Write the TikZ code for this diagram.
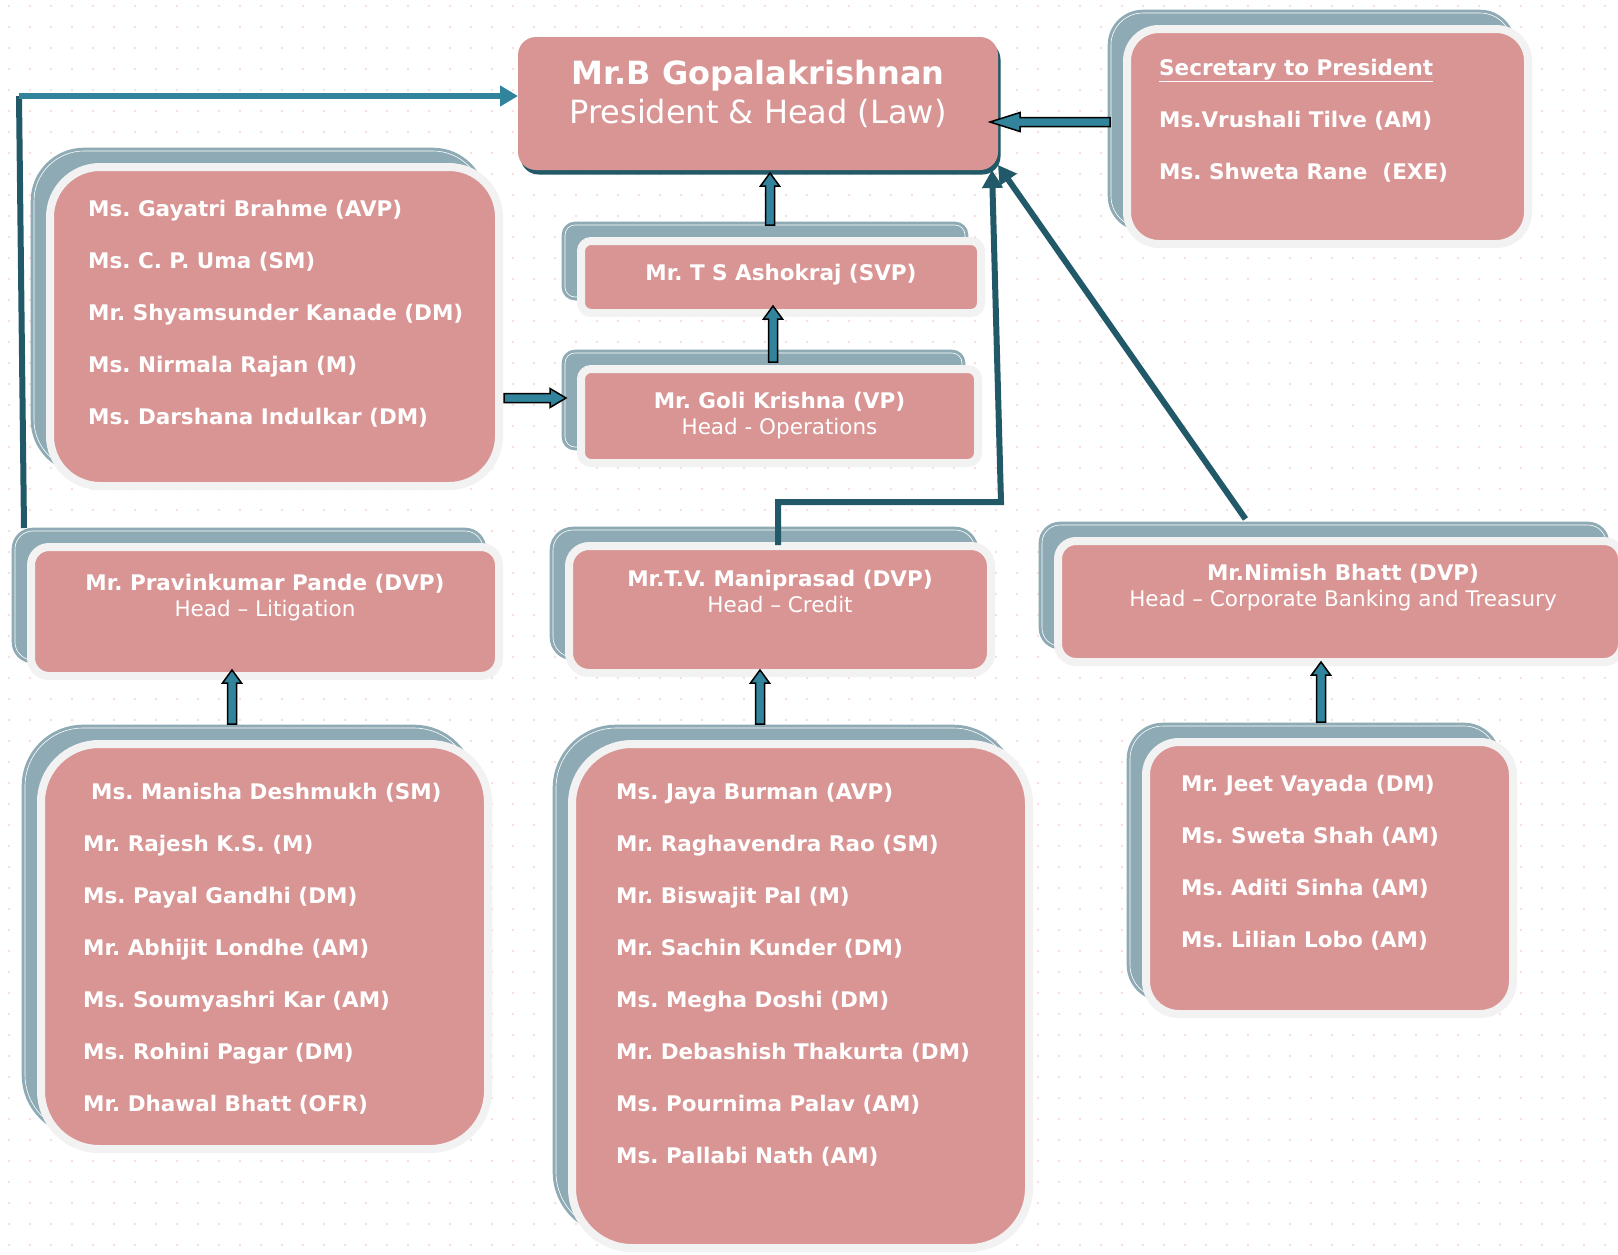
\documentclass[tikz,border=0pt]{standalone}
\usepackage{fontspec}
\setmainfont{DejaVu Sans}
\usetikzlibrary{calc,positioning,shadows,arrows.meta,patterns.meta}
\frenchspacing

\definecolor{pinkbox}{HTML}{D99594}
\definecolor{rimgray}{HTML}{F2F2F2}
\definecolor{backteal}{HTML}{8EAAB4}
\definecolor{darkteal}{HTML}{215968}
\definecolor{arrowteal}{HTML}{31849B}
\definecolor{dotpink}{HTML}{FADCDC}

\tikzdeclarepattern{name=bgdots, type=uncolored,
  bounding box={(0pt,0pt) and (21pt,21pt)}, tile size={(21pt,21pt)},
  code={\fill (10.5pt,10.5pt) circle (1.4pt);}}

% block arrow with a black rim: [head length]{from}{to}
\newcommand{\blockarrow}[3][13pt]{%
  \coordinate (ba-h) at ($(#3)!#1!(#2)$);
  \filldraw[blockline] ($(#2)!4.5pt!90:(#3)$) -- ($(ba-h)!4.5pt!-90:(#2)$)
    -- ($(ba-h)!9.5pt!-90:(#2)$) -- (#3) -- ($(ba-h)!9.5pt!90:(#2)$)
    -- ($(ba-h)!4.5pt!90:(#2)$) -- ($(#2)!4.5pt!-90:(#3)$) -- cycle;}

\begin{document}
\begin{tikzpicture}[x=1pt,y=-1pt,line join=miter,
  backcopy/.style={copy shadow={shadow xshift=-16pt,shadow yshift=16pt,
    fill=backteal,draw=backteal,line width=3pt,double=white,double distance=0.6pt}},
  frontbox/.style={backcopy,draw=rimgray,fill=pinkbox,line width=8pt,outer sep=0pt},
  presbox/.style={fill=pinkbox,rounded corners=18pt,outer sep=0pt,
    copy shadow={shadow xshift=2.5pt,shadow yshift=-4.5pt,fill=darkteal,draw=none}},
  members/.style={text=white,font=\fontsize{21.5}{52}\selectfont\bfseries,
    align=left,inner sep=0pt,anchor=north west},
  heading/.style={text=white,font=\fontsize{21.5}{26}\selectfont,
    align=center,inner sep=0pt,anchor=north},
  blockline/.style={draw=black,fill=arrowteal,line width=1.5pt},
  darkline/.style={draw=darkteal,line width=6pt},
  headtip/.style={-{Triangle[length=18pt,width=20pt]}}]
	%% Background
	\fill[white] (0,0) rectangle (1618,1254);
	\fill[pattern=bgdots,pattern color=dotpink] (0,0) rectangle (1618,1254);
	\useasboundingbox (0,0) rectangle (1618,1254);
	%% Boxes
	\node[presbox,minimum width=480,minimum height=133] (pres) at (758,103.5) {};
	\node[frontbox,rounded corners=32pt,minimum width=401,minimum height=215] (secy) at (1327.5,136.5) {};
	\node[frontbox,rounded corners=50pt,minimum width=449,minimum height=319] (ops) at (274.5,326.5) {};
	\node[frontbox,rounded corners=10pt,minimum width=400,minimum height=72] (ashok) at (781,277) {};
	\node[frontbox,rounded corners=10pt,minimum width=397,minimum height=94] (goli) at (779.5,416) {};
	\node[frontbox,rounded corners=18pt,minimum width=468,minimum height=129] (pravin) at (265,611.5) {};
	\node[frontbox,rounded corners=20pt,minimum width=422,minimum height=127] (mani) at (780,609.5) {};
	\node[frontbox,rounded corners=18pt,minimum width=564,minimum height=121] (nimish) at (1340,601.5) {};
	\node[frontbox,rounded corners=58pt,minimum width=447,minimum height=405] (litg) at (264.5,946.5) {};
	\node[frontbox,rounded corners=60pt,minimum width=457,minimum height=504] (cred) at (800.5,996) {};
	\node[frontbox,rounded corners=33pt,minimum width=367,minimum height=272] (corp) at (1329.5,878) {};
	%% Texts
	\node[heading,font=\fontsize{32}{39}\selectfont] (pres-txt) at ($(pres.north)+(0,23.4)$)
		{\textbf{Mr.B Gopalakrishnan}\\President \& Head (Law)};
	\node[members] (secy-txt) at ($(secy.north west)+(32,29.6)$)
		{\underline{Secretary to President}\\Ms.Vrushali Tilve (AM)\\Ms. Shweta Rane\ \ (EXE)};
	\node[members] (ops-txt) at ($(ops.north west)+(38,32.5)$)
		{Ms. Gayatri Brahme (AVP)\\Ms. C. P. Uma (SM)\\Mr. Shyamsunder Kanade (DM)\\
		 Ms. Nirmala Rajan (M)\\Ms. Darshana Indulkar (DM)};
	\node[heading] (ashok-txt) at ($(ashok.north)+(0,22.6)$) {\textbf{Mr. T S Ashokraj (SVP)}};
	\node[heading] (goli-txt) at ($(goli.north)+(0,22.6)$) {\textbf{Mr. Goli Krishna (VP)}\\Head - Operations};
	\node[heading] (pravin-txt) at ($(pravin.north)+(0,26.5)$) {\textbf{Mr. Pravinkumar Pande (DVP)}\\Head – Litigation};
	\node[heading] (mani-txt) at ($(mani.north)+(0,23.6)$) {\textbf{Mr.T.V. Maniprasad (DVP)}\\Head – Credit};
	\node[heading] (nimish-txt) at ($(nimish.north)+(3,23.4)$)
		{\textbf{Mr.Nimish Bhatt (DVP)}\\Head – Corporate Banking and Treasury};
	\node[members] (litg-txt) at ($(litg.north west)+(42,38.6)$)
		{\hspace*{8pt}Ms. Manisha Deshmukh (SM)\\Mr. Rajesh K.S. (M)\\Ms. Payal Gandhi (DM)\\
		 Mr. Abhijit Londhe (AM)\\Ms. Soumyashri Kar (AM)\\Ms. Rohini Pagar (DM)\\Mr. Dhawal Bhatt (OFR)};
	\node[members] (cred-txt) at ($(cred.north west)+(44,38.9)$)
		{Ms. Jaya Burman (AVP)\\Mr. Raghavendra Rao (SM)\\Mr. Biswajit Pal (M)\\Mr. Sachin Kunder (DM)\\
		 Ms. Megha Doshi (DM)\\Mr. Debashish Thakurta (DM)\\Ms. Pournima Palav (AM)\\Ms. Pallabi Nath (AM)};
	\node[members] (corp-txt) at ($(corp.north west)+(35,32.6)$)
		{Mr. Jeet Vayada (DM)\\Ms. Sweta Shah (AM)\\Ms. Aditi Sinha (AM)\\Ms. Lilian Lobo (AM)};
	%% Lines into the president
	\coordinate (corner) at (19,96);
	\coordinate (pravin-up) at ($(pravin.north west)+(-7,-19)$);
	\draw[darkline] (pravin-up) -- (corner);
	\draw[darkline,draw=arrowteal,headtip] (corner) -- ($(pres.west)+(0,-7.5)$);
	\coordinate (mani-up) at ($(mani.north)+(-2,-1)$);
	\coordinate (elbow) at (1001,502);
	\draw[darkline,headtip] (mani-up) |- (elbow) -- ($(pres.south east)+(-6,0)$);
	\coordinate (nimish-up) at ($(nimish.north west)+(187.5,-22)$);
	\draw[darkline,headtip] (nimish-up) -- ($(pres.south east)+(0,-5)$);
	%% Block arrows
	\coordinate (ashok-up) at ($(ashok.north)+(-11,-16)$);
	\coordinate (pres-in) at ($(pres.south)+(12,3)$);
	\blockarrow{ashok-up}{pres-in}
	\coordinate (goli-up) at ($(goli.north)+(-6.5,-7)$);
	\coordinate (ashok-in) at ($(ashok.south)+(-8,-7)$);
	\blockarrow{goli-up}{ashok-in}
	\coordinate (ops-out) at ($(ops.south east)+(5,-88)$);
	\coordinate (goli-in) at ($(goli.west)+(-15,-18)$);
	\blockarrow[16pt]{ops-out}{goli-in}
	\coordinate (secy-out) at ($(secy.west)+(-17,-14.5)$);
	\coordinate (pres-side) at ($(pres.east)+(-8,18.5)$);
	\blockarrow[30pt]{secy-out}{pres-side}
	\coordinate (litg-up) at ($(litg.north)+(-32.5,-20)$);
	\coordinate (pravin-in) at ($(pravin.south)+(-33,-6)$);
	\blockarrow{litg-up}{pravin-in}
	\coordinate (cred-up) at ($(cred.north)+(-40.5,-20)$);
	\coordinate (mani-in) at ($(mani.south)+(-20,-3)$);
	\blockarrow{cred-up}{mani-in}
	\coordinate (corp-up) at ($(corp.north)+(-8.5,-20)$);
	\coordinate (nimish-in) at ($(nimish.south)+(-19,0)$);
	\blockarrow{corp-up}{nimish-in}
\end{tikzpicture}
\end{document}
